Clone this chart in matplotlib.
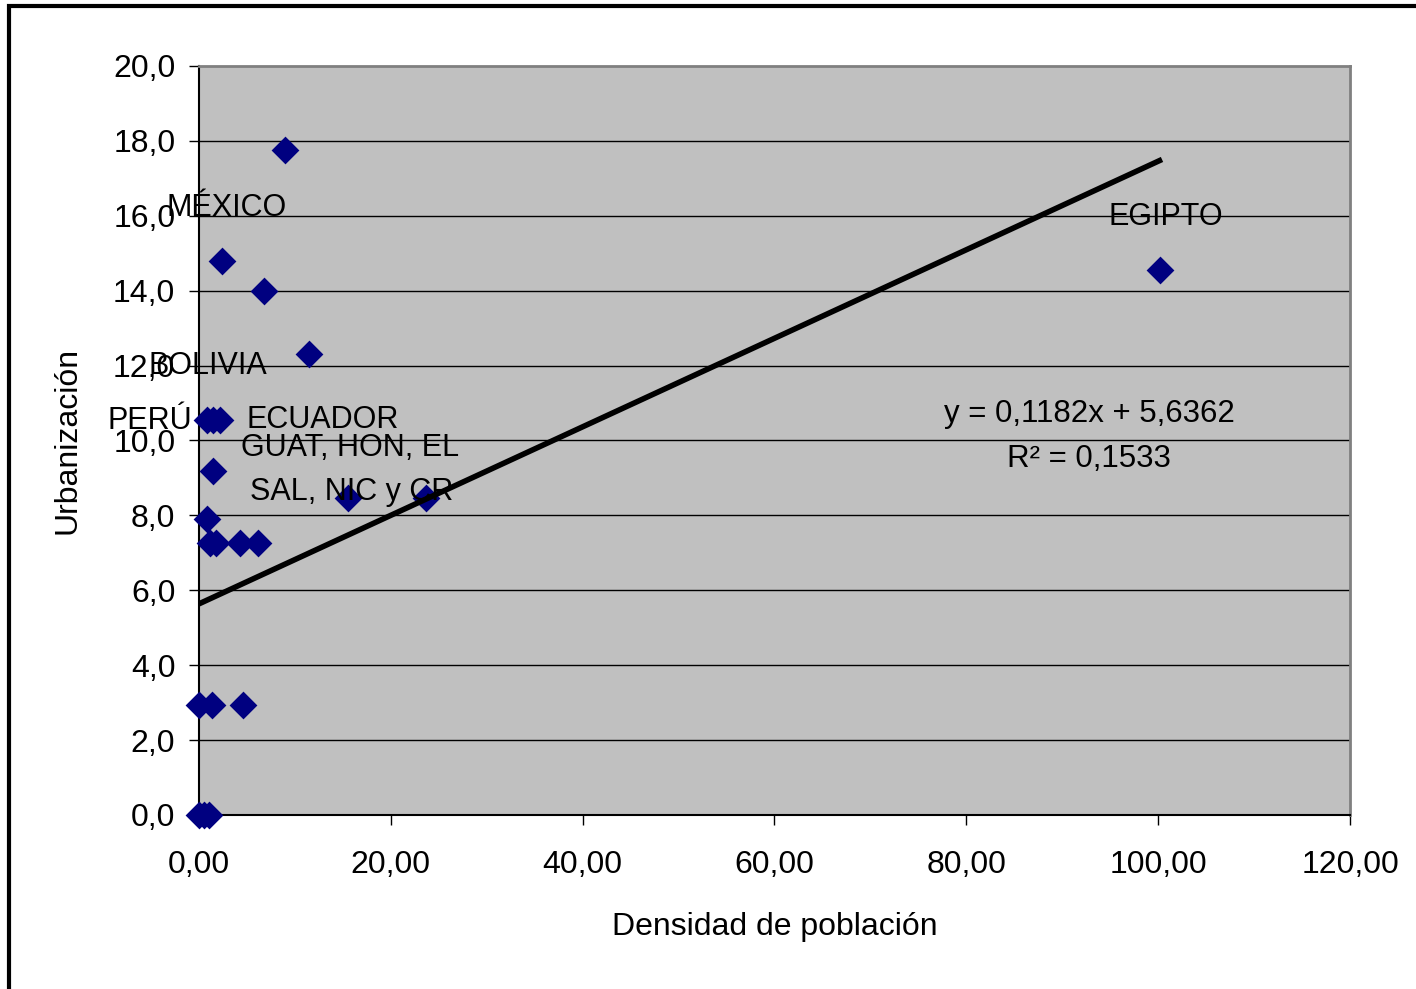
import matplotlib.pyplot as plt
from matplotlib.patches import Rectangle

plt.rcParams['font.family'] = ['Liberation Sans', 'DejaVu Sans']

# densidad de poblacion vs urbanizacion
densidad = [8.97, 2.40, 6.78, 11.47, 100.2,
            0.83, 1.46, 2.19, 1.46, 0.83,
            1.15, 1.77, 4.27, 6.15, 15.53, 23.67,
            0.0, 1.36, 4.59, 0.0, 0.5, 1.0]
urbanizacion = [17.76, 14.79, 13.99, 12.31, 14.55,
                10.55, 10.55, 10.55, 9.19, 7.90,
                7.26, 7.26, 7.26, 7.26, 8.46, 8.46,
                2.94, 2.94, 2.94, 0.0, 0.0, 0.0]

pendiente = 0.1182
ordenada = 5.6362
r2 = 0.1533
x_fin = 100.4

etiquetas = ['MÉXICO', 'BOLIVIA', 'PERÚ', 'ECUADOR', 'GUAT, HON, EL', 'SAL, NIC y CR', 'EGIPTO']
etiq_x = [-3.35, -5.3, -9.5, 5.0, 4.4, 5.3, 94.8]
etiq_y = [16.22, 11.99, 10.52, 10.55, 9.81, 8.62, 15.97]

fig = plt.figure(figsize=(14.16, 9.89), dpi=100)
ax = fig.add_axes([0.1405, 0.176, 0.8129, 0.7573])
ax.set_facecolor('#C0C0C0')

for y in range(2, 20, 2):
    ax.axhline(y, color='black', lw=1, zorder=1)

ax.scatter(densidad, urbanizacion, marker='D', s=200, color='#000080', zorder=3, clip_on=False,
           linewidths=0)

ax.plot([0, x_fin], [ordenada, ordenada + pendiente * x_fin], color='black', lw=4, zorder=4,
        solid_capstyle='butt')

for t, x, y in zip(etiquetas, etiq_x, etiq_y):
    ax.text(x, y, t, fontsize=22, ha='left', va='center', clip_on=False, zorder=5)

ax.text(92.8, 10.7, f'y = {pendiente:.4f}x + {ordenada:.4f}'.replace('.', ','),
        fontsize=22.5, ha='center', va='center')
ax.text(92.8, 9.5, f'R² = {r2:.4f}'.replace('.', ','), fontsize=22.5, ha='center', va='center')

ax.set_xlim(0, 120)
ax.set_ylim(0, 20)
ax.set_xticks(range(0, 121, 20))
ax.set_xticklabels([f'{v:.2f}'.replace('.', ',') for v in range(0, 121, 20)])
ax.set_yticks(range(0, 21, 2))
ax.set_yticklabels([f'{v:.1f}'.replace('.', ',') for v in range(0, 21, 2)])
ax.tick_params(axis='both', labelsize=23, direction='out', length=7, width=1, colors='black')
ax.tick_params(axis='x', pad=18)
ax.tick_params(axis='y', pad=10)

for s in ['top', 'right']:
    ax.spines[s].set_color('#808080')
    ax.spines[s].set_linewidth(2)
for s in ['left', 'bottom']:
    ax.spines[s].set_color('black')
    ax.spines[s].set_linewidth(1.5)

ax.set_xlabel('Densidad de población', fontsize=23, labelpad=23)
ax.set_ylabel('Urbanización', fontsize=23, labelpad=22)

fig.patches.append(Rectangle((9 / 1416, -0.05), 1.2, 1 - 6 / 989 + 0.05, transform=fig.transFigure,
                             fill=False, edgecolor='black', lw=3))

fig.savefig('out.png', dpi=100)
